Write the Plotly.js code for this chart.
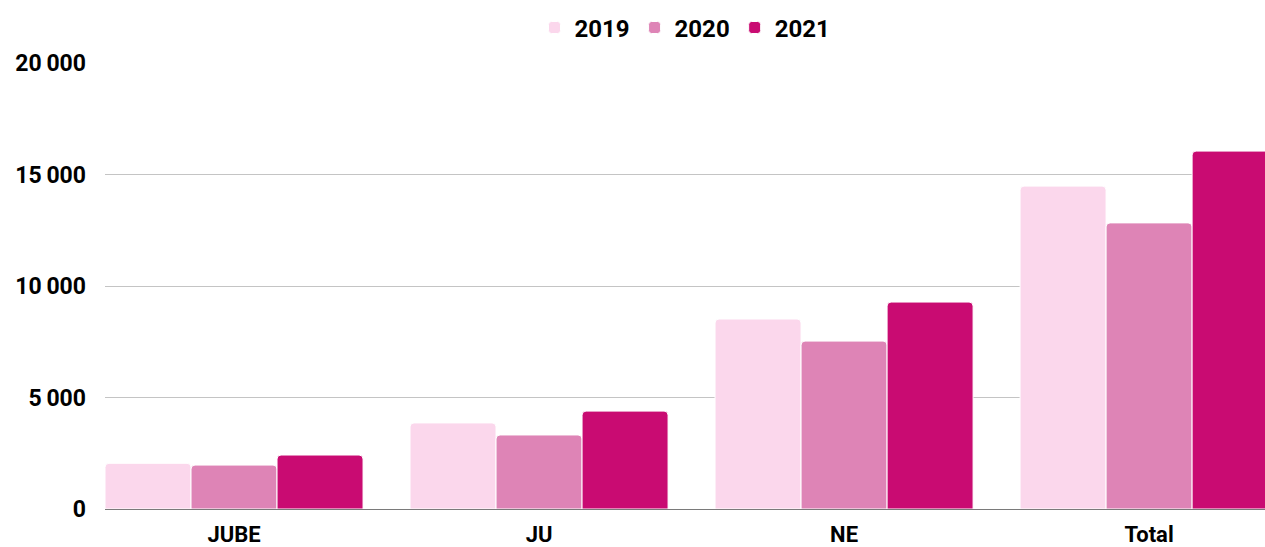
<!DOCTYPE html>
<html><head><meta charset="utf-8">
<script src="https://cdn.plot.ly/plotly-3.0.1.min.js"></script>
<style>html,body{margin:0;padding:0;background:#fff;}#chart{width:1265px;height:547px;}</style>
</head><body><div id="chart"></div>
<script>
const categories = ["JUBE", "JU", "NE", "Total"];
const seriesNames = ["2019", "2020", "2021"];
const values2019 = [2050, 3860, 8520, 14480];
const values2020 = [1970, 3320, 7530, 12830];
const values2021 = [2420, 4390, 9280, 16050];
const colors = ["#FBD7EC", "#DE84B6", "#C90B72"];
const yTickVals = [0, 5000, 10000, 15000, 20000];
const yTickText = ["0", "5\u2009000", "10\u2009000", "15\u2009000", "20\u2009000"];

const allValues = [values2019, values2020, values2021];
const traces = seriesNames.map((n, i) => ({
  type: "bar", name: n, x: categories, y: allValues[i],
  marker: {color: colors[i], line: {color: "#ffffff", width: 1}},
  hoverinfo: "skip"
}));

const layout = {
  width: 1265, height: 547,
  margin: {l: 105, r: 0, t: 63, b: 38, autoexpand: false},
  paper_bgcolor: "#fff", plot_bgcolor: "#fff",
  font: {family: "Roboto, sans-serif", color: "#000", size: 23, weight: 700},
  barmode: "group", bargap: 0.154, bargroupgap: 0.0, barcornerradius: 4,
  showlegend: true,
  legend: {orientation: "h", x: 0.5, xanchor: "center", xref: "paper", y: 0.949, yanchor: "middle", yref: "container",
           font: {size: 24, weight: 700}, itemwidth: 30, traceorder: "normal"},
  xaxis: {type: "category", range: [-0.423, 3.38], showgrid: false, zeroline: false, automargin: false,
          showline: false, ticks: "", ticklabelstandoff: 10, tickfont: {size: 22, weight: 700}, fixedrange: true},
  yaxis: {range: [0, 20000], tickvals: yTickVals, ticktext: yTickText, showgrid: true, automargin: false,
          gridcolor: "#c4c4c4", gridwidth: 1, zeroline: true, zerolinecolor: "#7a7a7a", zerolinewidth: 1,
          showline: false, ticks: "", ticklabelstandoff: 18, tickfont: {size: 23, weight: 700}, fixedrange: true}
};
Plotly.newPlot("chart", traces, layout, {displayModeBar: false, staticPlot: true});
</script></body></html>
